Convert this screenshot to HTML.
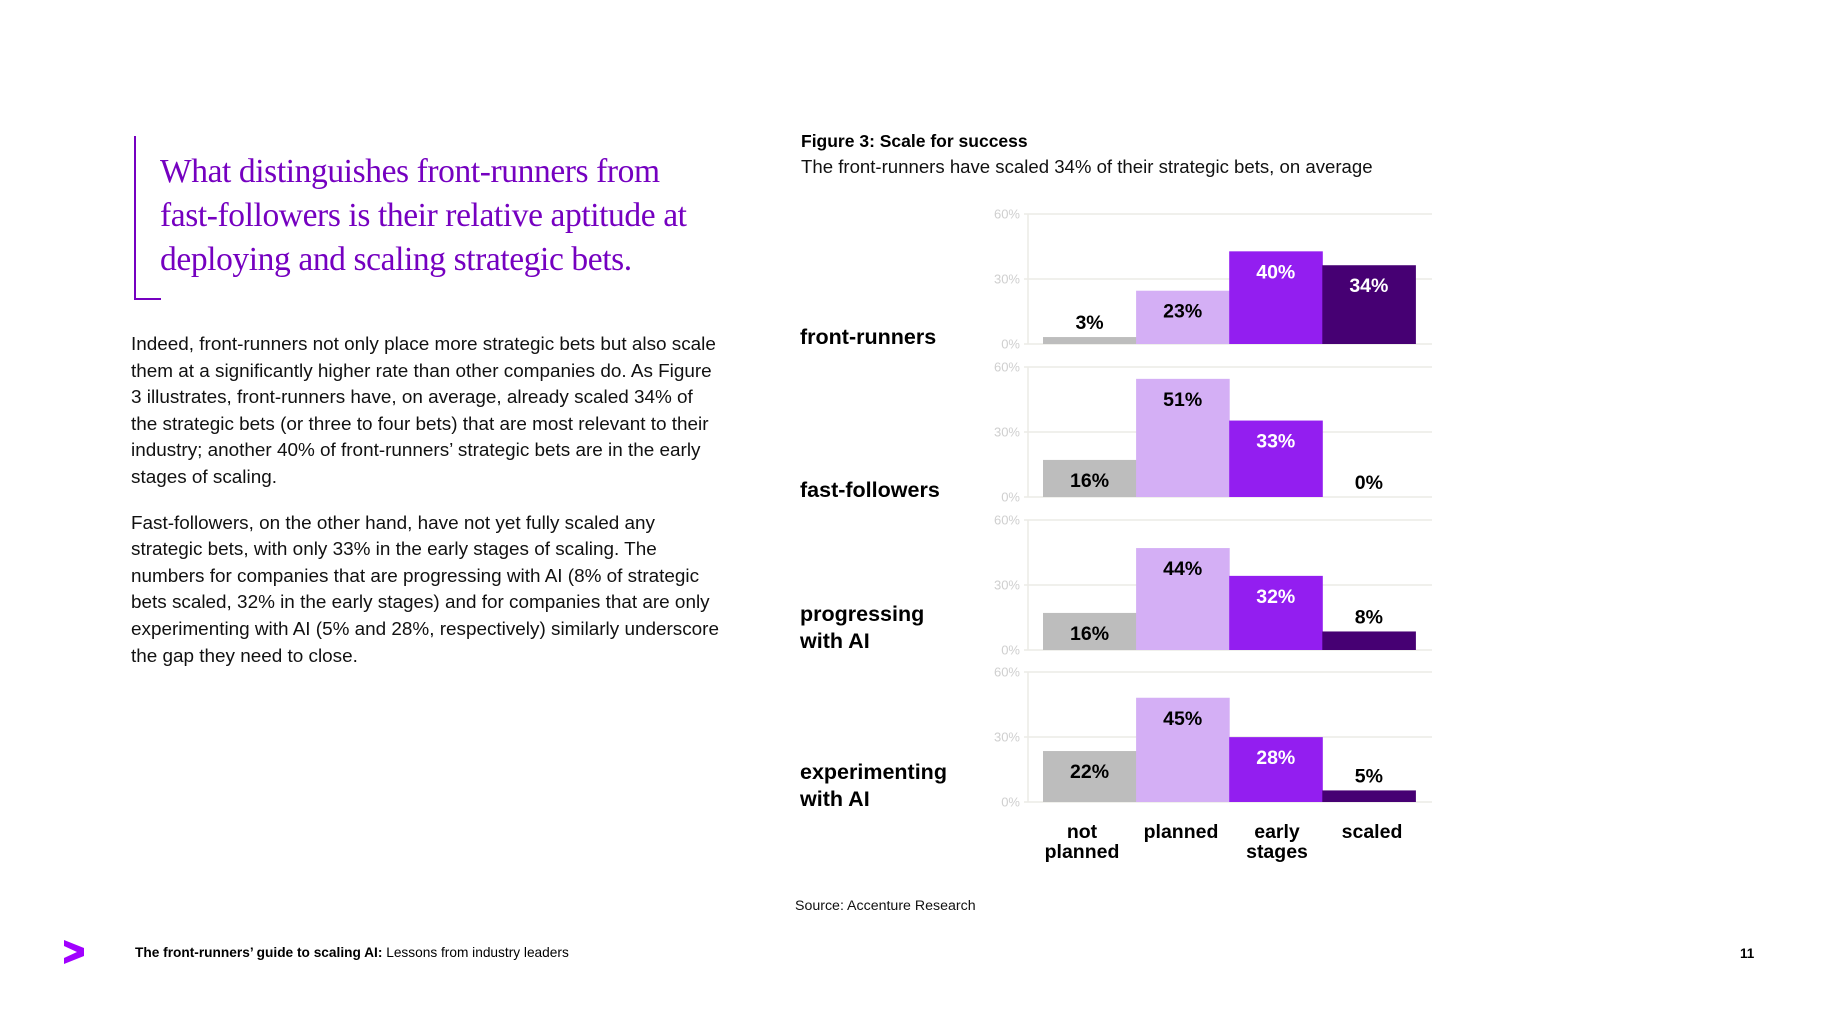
<!DOCTYPE html>
<html><head><meta charset="utf-8"><style>
body{margin:0;background:#fff;width:1821px;height:1024px;overflow:hidden;position:relative;font-family:"Liberation Sans",sans-serif;}
.abs{position:absolute;}
</style></head><body>
<div class="abs" style="left:134px;top:136px;width:2px;height:164px;background:#7500c0"></div>
<div class="abs" style="left:134px;top:298px;width:27px;height:2px;background:#7500c0"></div>
<div class="abs" style="left:160px;top:150px;width:640px;font-family:'Liberation Serif',serif;font-size:33.5px;line-height:44px;color:#7500c0;letter-spacing:-0.4px">What distinguishes front-runners from<br>fast-followers is their relative aptitude at<br>deploying and scaling strategic bets.</div>
<div class="abs" style="left:131px;top:332px;width:660px;font-size:18.9px;line-height:26.6px;color:#111">
<p style="margin:0 0 19px 0">Indeed, front-runners not only place more strategic bets but also scale<br>them at a significantly higher rate than other companies do. As Figure<br>3 illustrates, front-runners have, on average, already scaled 34% of<br>the strategic bets (or three to four bets) that are most relevant to their<br>industry; another 40% of front-runners’ strategic bets are in the early<br>stages of scaling.</p>
<p style="margin:0">Fast-followers, on the other hand, have not yet fully scaled any<br>strategic bets, with only 33% in the early stages of scaling. The<br>numbers for companies that are progressing with AI (8% of strategic<br>bets scaled, 32% in the early stages) and for companies that are only<br>experimenting with AI (5% and 28%, respectively) similarly underscore<br>the gap they need to close.</p></div>
<div class="abs" style="left:801px;top:131px;font-size:17.5px;font-weight:bold;color:#000">Figure 3: Scale for success</div>
<div class="abs" style="left:801px;top:156px;font-size:18.6px;color:#111">The front-runners have scaled 34% of their strategic bets, on average</div>
<svg class="abs" style="left:0;top:0" width="1821" height="1024" id="chart"></svg>
<div class="abs" style="left:795px;top:898px;font-size:14.2px;color:#111">Source: Accenture Research</div>
<svg class="abs" style="left:64px;top:940px" width="22" height="24"><polygon points="0,0 20,8 20,16 0,24 0,18 13,12 0,6" fill="#a100ff"/></svg>
<div class="abs" style="left:135px;top:945px;font-size:13.7px;color:#000"><b>The front-runners’ guide to scaling AI:</b> Lessons from industry leaders</div>
<div class="abs" style="left:1740px;top:946px;font-size:13.5px;font-weight:bold;color:#000">11</div>
<script>
const groups=["front-runners","fast-followers","progressing|with AI","experimenting|with AI"];
const categories=["not|planned","planned","early|stages","scaled"];
const notPlanned=[3,16,16,22];
const planned=[23,51,44,45];
const earlyStages=[40,33,32,28];
const scaled=[34,0,8,5];
const ticks=[0,30,60];
const series=[notPlanned,planned,earlyStages,scaled];
const colors=["#bdbdbd","#d4aff5","#931ef0","#460073"];
const labelColors=["#000","#000","#fff","#fff"];
const NS="http://www.w3.org/2000/svg";
const svg=document.getElementById('chart');
const baseY=[344,497,650,802], gh=130, bh=139, maxV=60, x0=1043, bw=93.1;
function yG(g,v){return baseY[g]-v/maxV*gh;}
function yS(g,v){return baseY[g]-v/maxV*bh;}
function xS(c){return x0+c*bw;}
function mk(tag,at,txt){const e=document.createElementNS(NS,tag);for(const k in at)e.setAttribute(k,at[k]);if(txt!==undefined)e.textContent=txt;svg.appendChild(e);return e;}
groups.forEach((gname,g)=>{
  ticks.forEach(t=>{
    const l=mk('line',{x1:1024,x2:1432,y1:yG(g,t),y2:yG(g,t),stroke:'#ecebe6','stroke-width':1.5});
    
    
    const tx=mk('text',{x:1020,y:yG(g,t)+4.5,'text-anchor':'end','font-size':13,fill:'#cfcfcf','font-family':'Liberation Sans'},t+'%');
    
    
  });
  const ax=mk('line',{x1:1028,x2:1028,y1:yG(g,60),y2:yG(g,0),stroke:'#ecebe6','stroke-width':1.5});
  
  
  const parts=gname.split('|');
  const cy=parts.length==1?(g==0?337:490):(g==2?614:772);
  parts.forEach((p,i)=>{
    const t=mk('text',{x:800,y:cy+7+i*27,'font-size':21.5,'font-weight':'bold',fill:'#000','font-family':'Liberation Sans'},p);
    
    
  });
  series.forEach((s,c)=>{
    const v=s[g];
    const r=mk('rect',{x:xS(c),y:yS(g,v),width:bw+0.5,height:baseY[g]-yS(g,v),fill:colors[c]});
    
    
    const above=v<10;
    const ly=above?yS(g,v)-15:yS(g,v)+20;
    const t=mk('text',{x:xS(c)+bw/2,y:ly+7,'text-anchor':'middle','font-size':19.5,'font-weight':'bold',fill:above?'#000':labelColors[c],'font-family':'Liberation Sans'},v+'%');
    
    
  });
});
const catX=[1082,1181,1277,1372];
categories.forEach((c,i)=>{
  c.split('|').forEach((p,j)=>{
    const t=mk('text',{x:catX[i],y:838+j*20,'text-anchor':'middle','font-size':19.5,'font-weight':'bold',fill:'#000','font-family':'Liberation Sans'},p);
    
    
  });
});
</script>
</body></html>
